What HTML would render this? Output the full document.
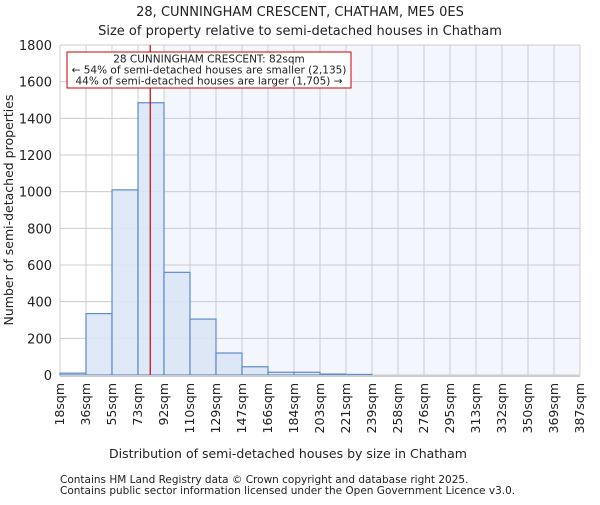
<!DOCTYPE html>
<html><head><meta charset="utf-8"><style>body{margin:0;background:#fff}svg text{font-family:"DejaVu Sans","Liberation Sans",sans-serif;fill:#222}</style></head>
<body>
<svg id="c" width="600" height="500">
<text x="300" y="16" font-size="13" text-anchor="middle">28, CUNNINGHAM CRESCENT, CHATHAM, ME5 0ES</text>
<text x="300" y="35" font-size="13" text-anchor="middle">Size of property relative to semi-detached houses in Chatham</text>
<g id="plot"></g>
<text x="288" y="458" font-size="12.5" text-anchor="middle">Distribution of semi-detached houses by size in Chatham</text>
<text transform="translate(13,210) rotate(-90)" font-size="12.5" text-anchor="middle">Number of semi-detached properties</text>
<text x="60" y="483" font-size="10.5" fill="#444">Contains HM Land Registry data © Crown copyright and database right 2025.</text>
<text x="60" y="494" font-size="10.5" fill="#444">Contains public sector information licensed under the Open Government Licence v3.0.</text>
</svg>
<script>
const categories=["18sqm","36sqm","55sqm","73sqm","92sqm","110sqm","129sqm","147sqm","166sqm","184sqm","203sqm","221sqm","239sqm","258sqm","276sqm","295sqm","313sqm","332sqm","350sqm","369sqm","387sqm"];
const counts=[10,335,1010,1485,560,305,120,45,15,15,5,3,0,0,0,0,0,0,0,0];
const yTicks=[0,200,400,600,800,1000,1200,1400,1600,1800];
const propertyBin=3.47;
const NS="http://www.w3.org/2000/svg";
const g=document.getElementById('plot');
const L=60,R=580,T=45,B=375,n=counts.length,bw=(R-L)/n;
const xs=i=>L+i*bw, ys=v=>B-(v/1800)*(B-T);
function mk(t,a,p){const e=document.createElementNS(NS,t);for(const k in a)e.setAttribute(k,a[k]);(p||g).appendChild(e);return e;}
let bg=mk('rect',{x:L,y:T,width:R-L,height:B-T,fill:'#fff'});


let hb=mk('rect',{x:xs(4),y:T,width:R-xs(4),height:B-T,fill:'#f3f6fd'});


yTicks.forEach(v=>{const y=ys(v);
 let l=mk('line',{x1:L,x2:R,y1:y,y2:y,stroke:'#ccc'});
 
 
 let t=mk('text',{x:L-8,y:y+5,'font-size':13,'text-anchor':'end'});t.textContent=v;
 
 });
categories.forEach((c,i)=>{const x=xs(i);
 let l=mk('line',{x1:x,x2:x,y1:T,y2:B,stroke:'#ccc'});
 
 
 let t=mk('text',{transform:`translate(${x+4},${B+8}) rotate(-90)`,'font-size':12.5,'text-anchor':'end'});t.textContent=c;
 
 });
counts.forEach((v,i)=>{if(v<=0)return;
 let r=mk('rect',{x:xs(i),y:ys(v),width:bw,height:B-ys(v),fill:'#dae5f5','fill-opacity':0.9,stroke:'#5b8bd0','stroke-width':1.2});
 
 });
let ax=mk('line',{x1:L,x2:R,y1:B+1,y2:B+1,stroke:'#ccc','stroke-width':2});


const px=L+propertyBin*bw;
let rl=mk('line',{x1:px,x2:px,y1:T,y2:B,stroke:'#cc0000','stroke-width':1.2});


let ab=mk('rect',{x:67,y:52,width:284,height:36,fill:'#fff',stroke:'#cc0000'});


["28 CUNNINGHAM CRESCENT: 82sqm","← 54% of semi-detached houses are smaller (2,135)","44% of semi-detached houses are larger (1,705) →"].forEach((s,i)=>{
 let t=mk('text',{x:209,y:62.5+i*11,'font-size':10.5,'text-anchor':'middle'});t.textContent=s;
 
 });
</script>
</body></html>
